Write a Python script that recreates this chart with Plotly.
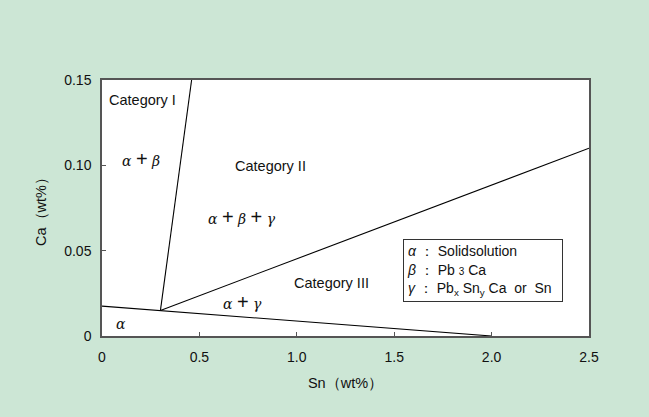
import plotly.graph_objects as go

# Boundary lines (Sn wt%, Ca wt%)
line1_x = [0.0, 2.0]
line1_y = [0.0175, 0.0]
line2_x = [0.3, 0.46]
line2_y = [0.015, 0.15]
line3_x = [0.3, 2.5]
line3_y = [0.015, 0.11]

x_ticks = [0, 0.5, 1.0, 1.5, 2.0, 2.5]
x_tick_labels = ["0", "0.5", "1.0", "1.5", "2.0", "2.5"]
y_ticks = [0, 0.05, 0.10, 0.15]
y_tick_labels = ["0", "0.05", "0.10", "0.15"]

# Region labels
cat_labels = ["Category I", "Category II", "Category III"]
cat_x = [0.208, 0.866, 1.18]
cat_y = [0.138, 0.0995, 0.031]
PLUS = " <span style='font-family:Liberation Sans;font-size:20px'>+</span> "
phase_labels = ["<i>α</i>" + PLUS + "<i>β</i>",
                "<i>α</i>" + PLUS + "<i>β</i>" + PLUS + "<i>γ</i>",
                "<i>α</i>" + PLUS + "<i>γ</i>",
                "<i>α</i>"]
phase_x = [0.2, 0.72, 0.72, 0.1]
phase_y = [0.104, 0.070, 0.0197, 0.0068]

legend_lines = ["<i>α</i> ： Solidsolution",
                "<i>β</i> ： Pb <span style='font-size:10px'>3</span> Ca",
                "<i>γ</i> ： Pb<sub>x</sub> Sn<sub>y</sub> Ca  or  Sn"]

FONT = "Liberation Sans, Arial"
fig = go.Figure()
for xs, ys in [(line1_x, line1_y), (line2_x, line2_y), (line3_x, line3_y)]:
    fig.add_trace(go.Scatter(x=xs, y=ys, mode="lines",
                             line=dict(color="black", width=1.1),
                             showlegend=False, hoverinfo="skip"))

for t, x, y in zip(cat_labels, cat_x, cat_y):
    fig.add_annotation(x=x, y=y, text=t, showarrow=False,
                       font=dict(family=FONT, size=14.5, color="#111"))
for t, x, y in zip(phase_labels, phase_x, phase_y):
    fig.add_annotation(x=x, y=y, text=t, showarrow=False,
                       font=dict(family="DejaVu Serif, serif", size=14, color="#111"))

fig.add_annotation(x=1.955, y=0.0382, text="<br>".join(legend_lines),
                   showarrow=False, align="left", xanchor="center", yanchor="middle",
                   width=152, height=55,
                   bordercolor="#333", borderwidth=1, borderpad=3,
                   bgcolor="white",
                   font=dict(family=FONT, size=14, color="#111"))

axis_common = dict(showline=True, mirror=True, linecolor="#555", linewidth=1.5,
                   ticks="inside", ticklen=4, tickcolor="#555",
                   showgrid=False, zeroline=False,
                   tickfont=dict(family=FONT, size=14, color="#111"))

fig.update_layout(
    width=649, height=417,
    paper_bgcolor="#cce6d5", plot_bgcolor="white",
    margin=dict(l=102, r=60, t=80, b=81),
    xaxis=dict(range=[0, 2.5], tickvals=x_ticks, ticktext=x_tick_labels,
               ticklabelstandoff=7,
               title=dict(text="Sn（wt%）", font=dict(family=FONT, size=14.5, color="#111"), standoff=14),
               **axis_common),
    yaxis=dict(range=[0, 0.15], tickvals=y_ticks, ticktext=y_tick_labels,
               ticklabelstandoff=6,
               title=dict(text="Ca（wt%）", font=dict(family=FONT, size=14.5, color="#111"), standoff=14),
               **axis_common),
)

fig.write_html("out.html", config={"displayModeBar": False},
               post_script="document.body.style.margin='0px';document.body.style.padding='0px';")
